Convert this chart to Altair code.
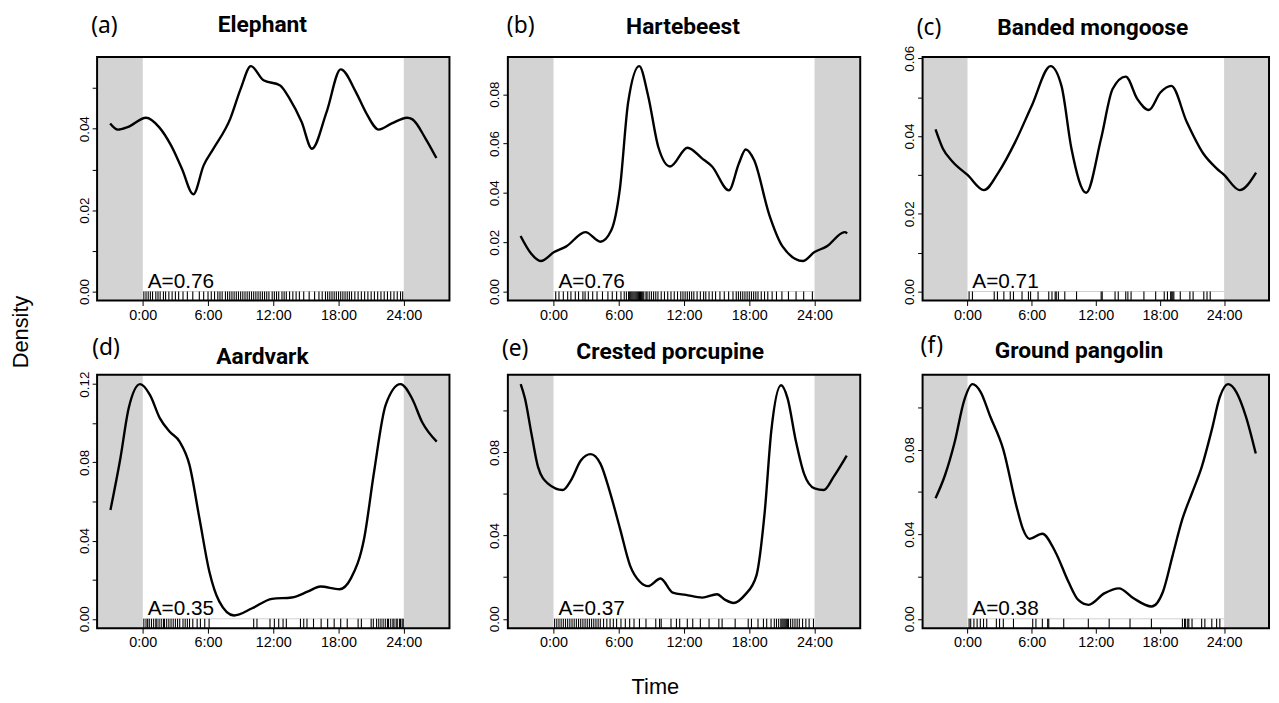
import altair as alt
import pandas as pd

species = ["Elephant", "Hartebeest", "Banded mongoose", "Aardvark", "Crested porcupine", "Ground pangolin"]
letters = ["(a)", "(b)", "(c)", "(d)", "(e)", "(f)"]
overlap = ["A=0.76", "A=0.76", "A=0.71", "A=0.35", "A=0.37", "A=0.38"]
hour_ticks = [0, 6, 12, 18, 24]

# --- density curves (hour, density) ---
elephant_h = [-3.0, -2.3, -1.4, 0.3, 1.5, 2.6, 3.6, 4.65, 5.6, 6.5, 8.05, 9.0, 9.94, 11.1, 12.6, 13.5,
              14.6, 15.56, 16.9, 18.2, 19.6, 20.5, 21.7, 22.9, 24.3, 24.8, 26.0, 27.0]
elephant_d = [0.0413, 0.0398, 0.0404, 0.0427, 0.0404, 0.0359, 0.0302, 0.0239, 0.0310, 0.0351, 0.0425,
              0.0498, 0.0554, 0.0519, 0.0507, 0.0474, 0.0417, 0.0351, 0.0441, 0.0546, 0.0490, 0.0441,
              0.0398, 0.0413, 0.0427, 0.0423, 0.0376, 0.0328]

hartebeest_h = [-3.03, -2.1, -1.17, 0.06, 1.14, 2.93, 4.32, 5.3, 6.1, 6.86, 7.88, 8.7, 9.64, 10.72, 12.32,
                13.65, 14.58, 16.12, 17.05, 17.67, 18.44, 19.83, 21.07, 22.92, 24.0, 25.08, 26.78, 27.0]
hartebeest_d = [0.0225, 0.0156, 0.0124, 0.0160, 0.0182, 0.0241, 0.0202, 0.0247, 0.0416, 0.0767, 0.0914,
                0.0793, 0.0585, 0.0507, 0.0583, 0.0540, 0.0507, 0.0410, 0.0520, 0.0576, 0.0533, 0.0312,
                0.0182, 0.0124, 0.0160, 0.0182, 0.0241, 0.0236]

mongoose_h = [-2.99, -2.31, -1.39, 0.0, 1.54, 2.93, 4.47, 6.01, 7.77, 8.79, 9.72, 11.1, 12.49, 13.57,
              14.8, 15.89, 16.96, 18.04, 19.06, 20.51, 22.05, 23.29, 24.0, 25.45, 26.99]
mongoose_d = [0.0417, 0.0368, 0.0334, 0.0300, 0.0261, 0.0308, 0.0385, 0.0478, 0.0580, 0.0529, 0.0368,
              0.0254, 0.0393, 0.0521, 0.0553, 0.0495, 0.0467, 0.0512, 0.0529, 0.0436, 0.0355, 0.0317,
              0.0300, 0.0261, 0.0306]

aardvark_h = [-2.97, -2.06, -1.3, -0.24, 0.67, 1.58, 2.48, 3.39, 4.3, 5.21, 6.12, 7.03, 8.39, 10.06,
              11.88, 13.7, 15.21, 16.33, 18.09, 19.15, 20.36, 21.27, 22.33, 23.7, 24.76, 25.67, 27.03]
aardvark_d = [0.0557, 0.0820, 0.1076, 0.1200, 0.1144, 0.1025, 0.0957, 0.0906, 0.0786, 0.0514, 0.0242,
              0.0089, 0.0017, 0.0054, 0.0102, 0.0109, 0.0140, 0.0165, 0.0151, 0.0208, 0.0412, 0.0752,
              0.1093, 0.1200, 0.1127, 0.1008, 0.0906]

porcupine_h = [-3.02, -2.63, -2.02, -1.42, -0.51, 0.85, 1.6, 2.51, 3.41, 4.32, 5.22, 6.13, 7.03, 7.94,
               8.69, 9.84, 10.96, 12.17, 13.68, 15.03, 15.79, 16.54, 17.6, 18.66, 19.41, 20.02, 20.92,
               21.52, 22.28, 23.03, 24.0, 24.85, 25.75, 26.96]
porcupine_d = [0.1128, 0.1060, 0.0887, 0.0729, 0.0650, 0.0619, 0.0666, 0.0761, 0.0792, 0.0745, 0.0603,
               0.0430, 0.0257, 0.0178, 0.0157, 0.0194, 0.0126, 0.0115, 0.0102, 0.0118, 0.0091, 0.0076,
               0.0115, 0.0209, 0.0509, 0.0902, 0.1123, 0.1060, 0.0855, 0.0698, 0.0627, 0.0619, 0.0682,
               0.0784]

pangolin_h = [-2.99, -2.13, -1.22, -0.3, 0.46, 1.22, 2.13, 3.35, 4.57, 5.18, 5.79, 7.0, 8.22, 9.44, 10.36,
              11.33, 12.79, 14.16, 15.53, 17.21, 18.28, 19.19, 20.1, 21.02, 21.93, 22.85, 23.61, 24.37,
              25.13, 26.04, 26.96]
pangolin_d = [0.0570, 0.0675, 0.0831, 0.1034, 0.1109, 0.1073, 0.0956, 0.0800, 0.0534, 0.0425, 0.0378,
              0.0402, 0.0316, 0.0175, 0.0089, 0.0066, 0.0120, 0.0144, 0.0097, 0.0058, 0.0128, 0.0300,
              0.0472, 0.0597, 0.0722, 0.0894, 0.1050, 0.1109, 0.1073, 0.0956, 0.0781]

# --- observation times (rug) ---
elephant_rug = [0.1, 0.3, 0.5, 0.7, 0.9, 1.2, 1.4, 1.6, 1.9, 2.1, 2.4, 2.7, 3.0, 3.3, 3.7, 4.1, 4.6, 5.2,
                5.6, 6.0, 6.3, 6.6, 6.9, 7.1, 7.3, 7.6, 7.8, 8.0, 8.2, 8.4, 8.6, 8.8, 9.0, 9.2, 9.4, 9.6,
                9.8, 10.0, 10.2, 10.4, 10.6, 10.8, 11.0, 11.2, 11.4, 11.6, 11.9, 12.1, 12.3, 12.5, 12.8,
                13.0, 13.2, 13.5, 13.8, 14.1, 14.4, 14.8, 15.3, 15.8, 16.2, 16.5, 16.8, 17.0, 17.2, 17.4,
                17.6, 17.8, 18.0, 18.2, 18.4, 18.6, 18.8, 19.0, 19.2, 19.5, 19.8, 20.1, 20.4, 20.7, 21.0,
                21.3, 21.6, 21.9, 22.2, 22.5, 22.8, 23.1, 23.4, 23.7, 23.9]
hartebeest_rug = [0.2, 0.5, 0.9, 1.3, 1.6, 2.0, 2.3, 2.7, 2.9, 3.2, 3.6, 4.0, 4.5, 5.0, 5.4, 5.8, 6.2, 6.5,
                  6.7, 6.9, 7.0, 7.1, 7.2, 7.3, 7.4, 7.5, 7.6, 7.7, 7.8, 7.9, 8.0, 8.1, 8.2, 8.3, 8.5, 8.6,
                  8.8, 9.0, 9.2, 9.4, 9.6, 9.9, 10.2, 10.5, 10.8, 11.1, 11.4, 11.7, 11.9, 12.1, 12.3,
                  12.5, 12.7, 12.9, 13.2, 13.5, 13.8, 14.0, 14.3, 14.6, 14.9, 15.3, 15.7, 16.1, 16.5,
                  16.8, 17.0, 17.2, 17.4, 17.6, 17.8, 18.0, 18.2, 18.4, 18.6, 18.8, 19.1, 19.4, 19.7,
                  20.1, 20.5, 21.0, 21.6, 22.3, 23.0, 23.8]
mongoose_rug = [0.15, 0.46, 2.5, 2.8, 3.4, 4.0, 4.3, 5.1, 5.7, 5.9, 6.6, 7.6, 7.9, 8.2, 8.3, 8.5, 9.1,
                10.2, 12.5, 12.6, 13.8, 14.1, 14.8, 15.0, 15.3, 16.5, 17.6, 18.4, 18.7, 19.0, 19.1, 19.2,
                19.3, 19.9, 20.8, 21.1, 22.1, 22.4, 22.7]
aardvark_rug = [0.1, 0.3, 0.45, 0.6, 0.8, 1.0, 1.2, 1.3, 1.5, 1.7, 1.9, 2.0, 2.2, 2.4, 2.6, 2.8, 3.0, 3.2,
                3.4, 3.7, 3.9, 4.1, 4.3, 4.6, 5.0, 5.3, 5.7, 6.1, 10.2, 10.5, 11.7, 12.1, 12.5, 12.9, 13.2,
                14.5, 14.8, 15.1, 15.7, 16.4, 17.0, 17.6, 18.2, 18.8, 19.8, 20.1, 21.0, 21.2, 21.5, 21.7,
                21.9, 22.1, 22.3, 22.5, 22.6, 22.8, 23.0, 23.1, 23.3, 23.4, 23.6, 23.7, 23.85, 23.95]
porcupine_rug = [0.1, 0.3, 0.5, 0.7, 0.9, 1.1, 1.3, 1.5, 1.7, 1.9, 2.1, 2.3, 2.5, 2.7, 2.9, 3.1, 3.3, 3.5,
                 3.7, 3.9, 4.1, 4.3, 4.6, 4.9, 5.2, 5.5, 5.8, 6.2, 6.6, 7.0, 7.4, 7.9, 8.5, 9.4, 9.75, 9.9,
                 10.8, 11.3, 11.6, 12.3, 12.8, 13.5, 14.3, 15.2, 15.5, 16.7, 17.9, 18.2, 18.8, 19.3, 19.6,
                 20.0, 20.3, 20.5, 20.7, 20.9, 21.0, 21.1, 21.2, 21.3, 21.4, 21.5, 21.6, 21.8, 22.0, 22.2,
                 22.4, 22.6, 22.9, 23.2, 23.5, 23.9]
pangolin_rug = [0.15, 0.3, 0.6, 0.9, 1.2, 1.5, 1.8, 2.7, 3.0, 3.35, 4.3, 6.1, 6.4, 7.0, 7.5, 7.6, 9.0,
                11.3, 13.25, 15.2, 17.2, 20.1, 20.3, 20.4, 20.6, 20.7, 21.0, 21.9, 22.2, 22.85, 23.3, 23.6]

curves = [(elephant_h, elephant_d), (hartebeest_h, hartebeest_d), (mongoose_h, mongoose_d),
          (aardvark_h, aardvark_d), (porcupine_h, porcupine_d), (pangolin_h, pangolin_d)]
rugs = [elephant_rug, hartebeest_rug, mongoose_rug, aardvark_rug, porcupine_rug, pangolin_rug]

# --- layout / style (not data) ---
col_w = [356, 356, 350]
row_h = [246, 256]
ytick_step = [0.01, 0.02, 0.01, 0.02, 0.02, 0.02]   # tick spacing
ylabel_every = [2, 2, 2, 4, 4, 4]                     # label every n hundredths
title_dx = [-11, -1, -3, -11, -14, -17]
title_dy = [-32, -30, -29, -18, -23, -24]
letter_dx = [-6, -1, -6, -5, -6, -2]
letter_dy = [-31, -31, -29, -27, -26, -29]

XMIN, XMAX = -4.2, 28.2
AXFONT = "Liberation Sans"


def panel(i):
    hrs, dens = curves[i]
    w = col_w[i % 3]
    h = row_h[i // 3]
    M = max(dens)
    lo, hi = -0.04 * M, 1.04 * M
    xs = alt.Scale(domain=[XMIN, XMAX], nice=False, zero=False)
    ys = alt.Scale(domain=[lo, hi], nice=False, zero=False)
    step = ytick_step[i]
    n = int(hi / step + 1e-9)
    yvals = [round(k * step, 3) for k in range(n + 1)]
    xaxis = alt.Axis(values=hour_ticks, labelExpr="datum.value + ':00'", title=None, domain=False,
                     grid=False, tickSize=5, tickColor="black", labelFontSize=14.5, labelFont=AXFONT,
                     labelColor="black", labelPadding=3)
    yaxis = alt.Axis(values=yvals, title=None, domain=False, grid=False, tickSize=5, tickColor="black",
                     labelAngle=-90, labelAlign="center", labelBaseline="bottom", labelFontSize=13.5,
                     labelFont=AXFONT, labelColor="black", labelPadding=1,
                     labelExpr=f"(round(datum.value*100) % {ylabel_every[i]} == 0) ? format(datum.value, '.2f') : ''")

    night = pd.DataFrame({"x0": [XMIN, 24.0], "x1": [0.0, XMAX]})
    shade = alt.Chart(night).mark_rect(color="#d3d3d3").encode(
        x=alt.X("x0:Q", scale=xs, axis=xaxis), x2="x1:Q",
        y=alt.value(0), y2=alt.value(h))

    zero = alt.Chart(pd.DataFrame({"a": [0.0], "b": [24.0], "z": [0.0]})).mark_rule(
        color="#cfcfcf", strokeWidth=1).encode(
        x=alt.X("a:Q", scale=xs, axis=xaxis), x2="b:Q",
        y=alt.Y("z:Q", scale=ys, axis=yaxis))

    rdf = pd.DataFrame({"t": rugs[i], "ylo": [lo] * len(rugs[i]), "yhi": [0.0] * len(rugs[i])})
    rug = alt.Chart(rdf).mark_rule(color="black", strokeWidth=1.1).encode(
        x=alt.X("t:Q", scale=xs, axis=xaxis),
        y=alt.Y("ylo:Q", scale=ys, axis=yaxis), y2="yhi:Q")

    cdf = pd.DataFrame({"hour": hrs, "density": dens})
    line = alt.Chart(cdf).mark_line(color="black", strokeWidth=2.4, interpolate="monotone").encode(
        x=alt.X("hour:Q", scale=xs, axis=xaxis),
        y=alt.Y("density:Q", scale=ys, axis=yaxis))

    adf = pd.DataFrame({"x": [0.45], "y": [0.0], "label": [overlap[i]]})
    atext = alt.Chart(adf).mark_text(align="left", baseline="alphabetic", dy=-4, fontSize=21,
                                     font=AXFONT, color="black").encode(
        x=alt.X("x:Q", scale=xs, axis=xaxis),
        y=alt.Y("y:Q", scale=ys, axis=yaxis), text="label:N")

    tdf = pd.DataFrame({"label": [species[i]]})
    title = alt.Chart(tdf).mark_text(align="center", baseline="middle", fontSize=23, font="Roboto",
                                     fontWeight="bold", color="black").encode(
        x=alt.value(w / 2 + title_dx[i]), y=alt.value(title_dy[i]), text="label:N")

    ldf = pd.DataFrame({"label": [letters[i]]})
    letter = alt.Chart(ldf).mark_text(align="left", baseline="middle", fontSize=23, font="Noto Sans",
                                      color="black").encode(
        x=alt.value(letter_dx[i]), y=alt.value(letter_dy[i]), text="label:N")

    frame = alt.Chart(pd.DataFrame({"k": [1]})).mark_rect(
        fill="white", fillOpacity=0, stroke="black", strokeWidth=2).encode(
        x=alt.value(0), x2=alt.value(w), y=alt.value(0), y2=alt.value(h))

    return alt.layer(shade, zero, rug, line, atext, title, letter, frame).properties(width=w, height=h)


panels = [panel(i) for i in range(6)]
row1 = alt.hconcat(alt.hconcat(panels[0], panels[1], spacing=36), panels[2], spacing=40)
row2 = alt.hconcat(alt.hconcat(panels[3], panels[4], spacing=36), panels[5], spacing=40)
grid = alt.vconcat(row1, row2, spacing=12,
                   title=alt.TitleParams("Density", orient="left", anchor="middle", fontSize=22,
                                         font=AXFONT, fontWeight="normal", color="black", offset=40,
                                         dy=-4))
chart = alt.vconcat(grid, title=alt.TitleParams("Time", orient="bottom", anchor="middle", fontSize=22,
                                                font=AXFONT, fontWeight="normal", color="black",
                                                offset=27, dx=15)).configure_view(
    stroke="transparent").properties(padding={"left": 2, "top": 2, "right": 0, "bottom": 0})

chart.save("out.html", embed_options={"renderer": "svg", "actions": False})
